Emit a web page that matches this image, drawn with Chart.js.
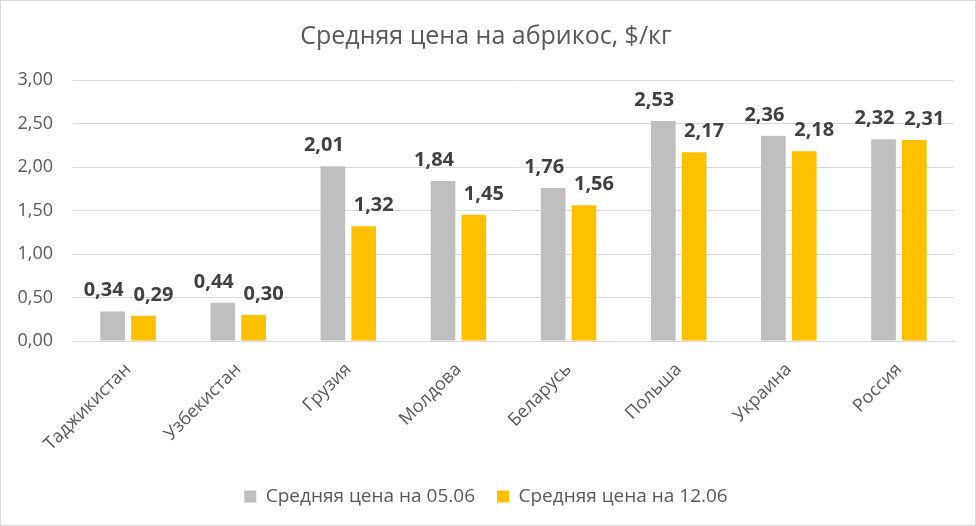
<!DOCTYPE html>
<html>
<head>
<meta charset="utf-8">
<script src="https://cdn.jsdelivr.net/npm/chart.js@4"></script>
<style>
  html, body { margin: 0; padding: 0; background: #fff; }
  #wrap { width: 976px; height: 526px; position: relative; }
</style>
</head>
<body>
<div id="wrap"><canvas id="chart"></canvas></div>
<script>
const categories = ["Таджикистан", "Узбекистан", "Грузия", "Молдова", "Беларусь", "Польша", "Украина", "Россия"];
const price0506 = [0.34, 0.44, 2.01, 1.84, 1.76, 2.53, 2.36, 2.32];
const price1206 = [0.29, 0.30, 1.32, 1.45, 1.56, 2.17, 2.18, 2.31];
const seriesNames = ["Средняя цена на 05.06", "Средняя цена на 12.06"];

const FONT = "'Open Sans', 'Noto Sans', sans-serif";
const fmt = (v) => v.toFixed(2).replace(".", ",");

// value labels above bars, nudged apart a little like in the original
const labelShift = [-9, 10];
const barLabels = {
  id: "barLabels",
  afterDatasetsDraw(chart) {
    const ctx = chart.ctx;
    ctx.save();
    ctx.font = "bold 20px " + FONT;
    ctx.fillStyle = "#404040";
    ctx.textAlign = "center";
    ctx.textBaseline = "alphabetic";
    chart.data.datasets.forEach((ds, i) => {
      chart.getDatasetMeta(i).data.forEach((bar, j) => {
        ctx.fillText(fmt(ds.data[j]), bar.x + labelShift[i], bar.y - 15);
      });
    });
    ctx.restore();
  }
};

// thin frame around the chart
const frame = {
  id: "frame",
  afterDraw(chart) {
    const ctx = chart.ctx;
    ctx.save();
    ctx.strokeStyle = "#d9d9d9";
    ctx.lineWidth = 1;
    ctx.strokeRect(0.5, 0.5, chart.width - 1, chart.height - 1);
    ctx.restore();
  }
};

new Chart(document.getElementById("chart"), {
  type: "bar",
  data: {
    labels: categories,
    datasets: [
      { label: seriesNames[0], data: price0506, backgroundColor: "#bfbfbf" },
      { label: seriesNames[1], data: price1206, backgroundColor: "#ffc000" }
    ]
  },
  options: {
    responsive: true,
    maintainAspectRatio: false,
    animation: false,
    datasets: { bar: { categoryPercentage: 0.56, barPercentage: 0.8 } },
    layout: { padding: { left: 18, right: 22, top: 8, bottom: 10 } },
    plugins: {
      title: {
        display: true,
        text: "Средняя цена на абрикос, $/кг",
        color: "#595959",
        font: { family: FONT, size: 25, weight: "normal" },
        padding: { top: 14, bottom: 28 }
      },
      legend: {
        position: "bottom",
        labels: {
          color: "#595959",
          font: { family: FONT, size: 19 },
          boxWidth: 12,
          boxHeight: 12,
          padding: 22
        }
      },
      tooltip: { enabled: false }
    },
    scales: {
      x: {
        grid: { display: false },
        border: { color: "#d9d9d9" },
        ticks: {
          color: "#595959",
          font: { family: FONT, size: 18 },
          minRotation: 45,
          maxRotation: 45,
          padding: 10
        },
        // let the long first label hang past the plot edge instead of squeezing it
        afterFit: (scale) => {
          scale.paddingLeft = 0;
          if (scale._margins) scale._margins.left = 0;
        }
      },
      y: {
        min: 0,
        max: 3,
        grid: { color: "#d9d9d9", drawTicks: false },
        border: { display: false },
        ticks: {
          stepSize: 0.5,
          color: "#595959",
          font: { family: FONT, size: 18 },
          padding: 20,
          callback: (v) => fmt(v)
        },
        afterFit: (scale) => { scale.width = 55; }
      }
    }
  },
  plugins: [barLabels, frame]
});
</script>
</body>
</html>
